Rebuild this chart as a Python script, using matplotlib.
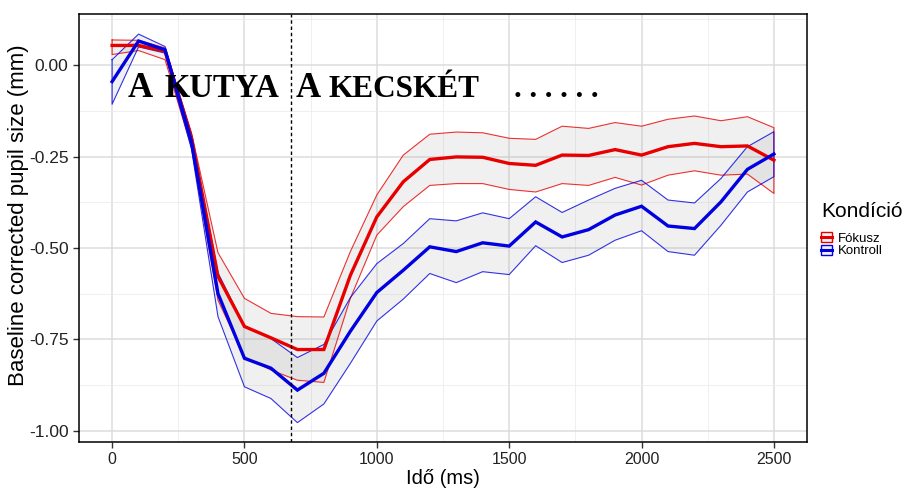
import matplotlib
matplotlib.use("Agg")
import matplotlib.pyplot as plt
from matplotlib.patches import Patch
from matplotlib.lines import Line2D
import numpy as np

time_ms = list(range(0, 2600, 100))

fokusz_mean = [0.054, 0.054, 0.038, -0.200, -0.578, -0.715, -0.746, -0.778, -0.778, -0.575,
               -0.415, -0.319, -0.258, -0.251, -0.252, -0.269, -0.274, -0.246, -0.247, -0.231,
               -0.246, -0.223, -0.214, -0.223, -0.221, -0.260]
fokusz_upper = [0.069, 0.068, 0.047, -0.185, -0.513, -0.638, -0.679, -0.688, -0.689, -0.510,
                -0.355, -0.246, -0.189, -0.183, -0.185, -0.200, -0.203, -0.167, -0.173, -0.157,
                -0.167, -0.148, -0.139, -0.152, -0.141, -0.171]
fokusz_lower = [0.029, 0.040, 0.015, -0.225, -0.643, -0.798, -0.834, -0.862, -0.868, -0.638,
                -0.465, -0.387, -0.329, -0.324, -0.324, -0.340, -0.347, -0.324, -0.329, -0.307,
                -0.328, -0.301, -0.289, -0.301, -0.298, -0.351]

kontroll_mean = [-0.045, 0.066, 0.042, -0.210, -0.625, -0.802, -0.829, -0.889, -0.843, -0.728,
                 -0.622, -0.561, -0.497, -0.510, -0.486, -0.495, -0.429, -0.470, -0.450, -0.410,
                 -0.386, -0.440, -0.447, -0.374, -0.285, -0.243]
kontroll_upper = [0.015, 0.085, 0.051, -0.190, -0.568, -0.714, -0.748, -0.800, -0.764, -0.636,
                  -0.543, -0.488, -0.420, -0.426, -0.404, -0.420, -0.360, -0.403, -0.369, -0.337,
                  -0.315, -0.369, -0.377, -0.310, -0.223, -0.182]
kontroll_lower = [-0.107, 0.050, 0.033, -0.230, -0.688, -0.880, -0.912, -0.978, -0.927, -0.816,
                  -0.700, -0.640, -0.570, -0.595, -0.565, -0.573, -0.494, -0.540, -0.520, -0.479,
                  -0.453, -0.510, -0.520, -0.438, -0.347, -0.305]

conditions = ["Fókusz", "Kontroll"]
colors = {"Fókusz": "#e80000", "Kontroll": "#0000e0"}
onset_ms = 675

x_ticks = [0, 500, 1000, 1500, 2000, 2500]
y_ticks = [0.00, -0.25, -0.50, -0.75, -1.00]
y_ticklabels = ["0.00", "-0.25", "-0.50", "-0.75", "-1.00"]

plt.rcParams['font.family'] = ['Liberation Sans', 'DejaVu Sans']

fig = plt.figure(figsize=(9.04, 4.88), dpi=100)
ax = fig.add_axes([79/904, 1-442/488, (807-79)/904, (442-14)/488])

ax.set_xlim(-125, 2625)
ax.set_ylim(-1.031, 0.14)

# grid
ax.set_xticks(x_ticks)
ax.set_xticks([250, 750, 1250, 1750, 2250], minor=True)
ax.set_yticks(y_ticks)
ax.set_yticks([0.125, -0.125, -0.375, -0.625, -0.875], minor=True)
ax.set_yticklabels(y_ticklabels)
ax.grid(which='major', color='#dcdcdc', linewidth=1.1, zorder=0)
ax.grid(which='minor', color='#ececec', linewidth=0.6, zorder=0)
ax.set_axisbelow(True)

data = {
    "Fókusz": (fokusz_mean, fokusz_upper, fokusz_lower),
    "Kontroll": (kontroll_mean, kontroll_upper, kontroll_lower),
}

t = np.array(time_ms)
for c in conditions:
    m, u, l = data[c]
    ax.fill_between(t, l, u, facecolor=(0.6, 0.6, 0.6, 0.14), edgecolor='none', zorder=2)
    xs = np.concatenate([t, t[::-1], t[:1]])
    ys = np.concatenate([np.array(u), np.array(l)[::-1], np.array(u)[:1]])
    ax.plot(xs, ys, color=colors[c], linewidth=0.8, zorder=3, alpha=0.8)
for c in conditions:
    m, u, l = data[c]
    ax.plot(t, m, color=colors[c], linewidth=2.4, zorder=4, solid_joinstyle='miter')

ax.axvline(onset_ms, color='black', linestyle=(0, (2.5, 2)), linewidth=1.0, zorder=5)

for s in ax.spines.values():
    s.set_color('black')
    s.set_linewidth(1.1)

ax.tick_params(axis='both', which='major', length=4, width=1, color='#333333',
               labelcolor='#222222')
ax.tick_params(axis='x', which='major', labelsize=11.5)
ax.tick_params(axis='y', which='major', labelsize=12.5)
ax.tick_params(axis='both', which='minor', length=0)

ax.set_xlabel("Idő (ms)", fontsize=14.5, labelpad=1)
ax.set_ylabel("Baseline corrected pupil size (mm)", fontsize=16.0)
ax.yaxis.set_label_coords((29 - 79) / 728, (442 - 215) / 428)

# sentence overlay
serif = ['Liberation Serif', 'DejaVu Serif']
def px2x(px):
    return (px - 112.5) / 0.26552
base_y = -0.088
big, small = 25, 23.5
ax.text(px2x(128), base_y, "A", fontsize=big, fontweight='bold', family=serif, va='baseline', ha='left', zorder=6)
ax.text(px2x(165), base_y, "KUTYA", fontsize=small, fontweight='bold', family=serif, va='baseline', ha='left', zorder=6)
ax.text(px2x(297), base_y, "A", fontsize=big, fontweight='bold', family=serif, va='baseline', ha='left', zorder=6)
ax.text(px2x(330), base_y, "KECSKÉT", fontsize=22.5, fontweight='bold', family=serif, va='baseline', ha='left', zorder=6)
ax.text(px2x(516), base_y, ". . . . . .", fontsize=22, fontweight='bold', family=serif, va='baseline', ha='left', zorder=6)

handles = [(Patch(facecolor='#f2f2f2', edgecolor=colors[c], linewidth=1.0),
            Line2D([], [], color=colors[c], linewidth=2.2)) for c in conditions]
leg = fig.legend(handles, conditions, title="Kondíció", loc='upper left',
                 bbox_to_anchor=(821/904, 1-202/488), frameon=False,
                 fontsize=9.5, title_fontsize=15, handlelength=0.8, handleheight=0.8,
                 handletextpad=0.5, labelspacing=0.0, alignment='left', borderaxespad=0,
                 borderpad=0)
leg._legend_box.sep = 8

fig.savefig("out.png", dpi=100)
